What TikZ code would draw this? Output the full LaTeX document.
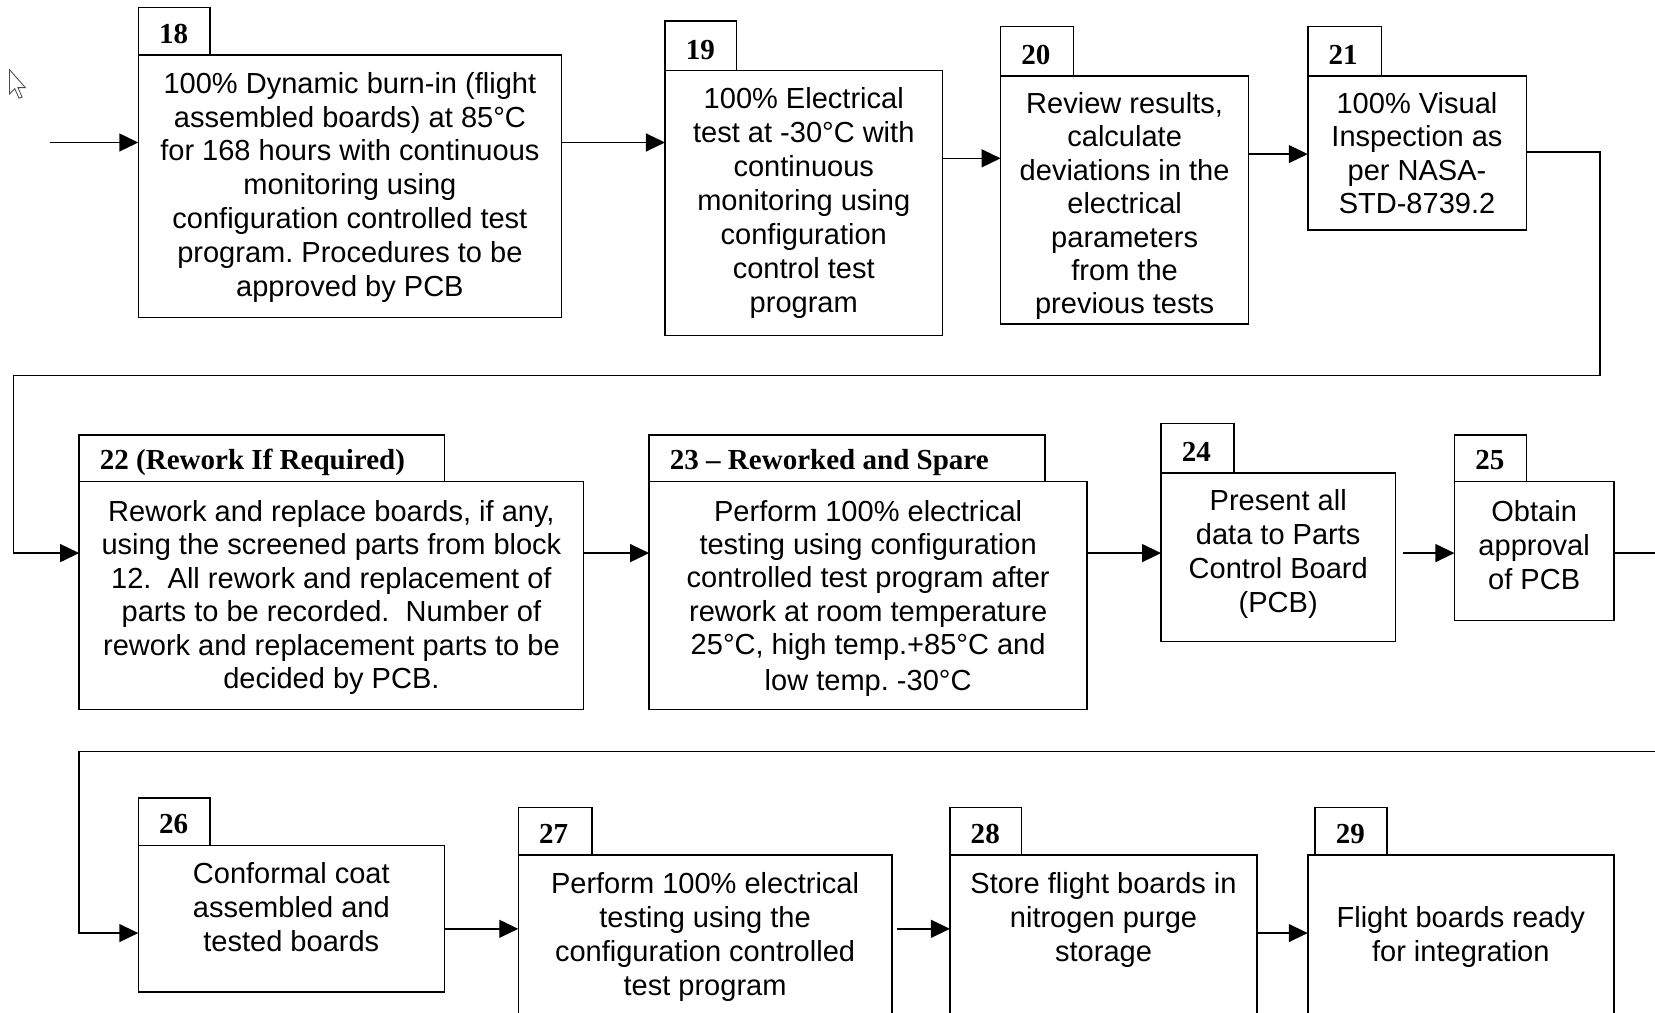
\documentclass[tikz,border=0pt]{standalone}
\usepackage{fontspec}
\setmainfont{Liberation Sans}
\newfontfamily\tabfont{Liberation Serif}
\usetikzlibrary{arrows.meta}
\frenchspacing

% a rectangle node given by its left, top, right and bottom edges
\newcommand\flowrect[5]{%
  \node[rectbox, minimum width={(#4)-(#2)}, minimum height={(#5)-(#3)}] (#1) at (#2,#3) {};}

\begin{document}
\begin{tikzpicture}[x=1pt,y=-1pt,line width=1.4pt,
  rectbox/.style={draw, rectangle, inner sep=0pt, outer sep=0pt, anchor=north west},
  tablabel/.style={anchor=base west, inner sep=0pt,
    font=\tabfont\bfseries\fontsize{27.5}{33}\selectfont},
  body/.style={anchor=north, inner sep=0pt, align=center,
    font=\fontsize{27.5}{32.2}\selectfont},
  arr/.style={-{Triangle[length=18pt,width=17pt]}}]

\useasboundingbox (0,0) rectangle (1568,959);
\clip (0,0) rectangle (1568,959);

% mouse pointer
\draw[line width=0.8pt, draw=black!70, fill=white]
  (9,66) -- (9,89) -- (14,84) -- (18,93) -- (21,92) -- (17,83) -- (24,83) -- cycle;

% ---------------- first row ----------------
\flowrect{t18}{131}{7}{199}{52}
\flowrect{b18}{131}{52}{532}{301}
\node[tablabel] (l18) at (150,41) {18};
\node[body] (x18) at ([yshift=-15.5pt]b18.north) {100\% Dynamic burn-in (flight\\assembled boards) at 85°C\\for 168 hours with continuous\\monitoring using\\configuration controlled test\\program. Procedures to be\\approved by PCB};

\flowrect{t19}{630}{20}{698}{67}
\flowrect{b19}{630}{67}{893}{318}
\node[tablabel] (l19) at (649,56) {19};
\node[body] (x19) at ([yshift=-15pt]b19.north) {100\% Electrical\\test at -30°C with\\continuous\\monitoring using\\configuration\\control test\\program};

\flowrect{t20}{948}{25}{1017}{72}
\flowrect{b20}{948}{72}{1183}{307}
\node[tablabel] (l20) at (967,61) {20};
\node[body, font=\fontsize{27.5}{31.6}\selectfont] (x20) at ([yshift=-15pt]b20.north) {Review results,\\calculate\\deviations in the\\electrical\\parameters\\from the\\previous tests};

\flowrect{t21}{1239}{25}{1309}{72}
\flowrect{b21}{1239}{72}{1446}{218}
\node[tablabel] (l21) at (1258,61) {21};
\node[body, font=\fontsize{27.5}{31.6}\selectfont] (x21) at ([yshift=-15pt]b21.north) {100\% Visual\\Inspection as\\per NASA-\\STD-8739.2};

% ---------------- second row ----------------
\flowrect{t22}{75}{412}{421}{456}
\flowrect{b22}{75}{456}{553}{672}
\node[tablabel] (l22) at (94,445) {22 (Rework If Required)};
\node[body, font=\fontsize{27.5}{31.8}\selectfont] (x22) at ([yshift=-17pt]b22.north) {Rework and replace boards, if any,\\using the screened parts from block\\12.\ \ All rework and replacement of\\parts to be recorded.\ \ Number of\\rework and replacement parts to be\\decided by PCB.};

\flowrect{t23}{615}{412}{990}{456}
\flowrect{b23}{615}{456}{1030}{672}
\node[tablabel] (l23) at (634,445) {23 – Reworked and Spare};
\node[body, font=\fontsize{27.5}{31.6}\selectfont] (x23) at ([yshift=-17pt]b23.north) {Perform 100\% electrical\\testing using configuration\\controlled test program after\\rework at room temperature\\25°C, high temp.+85°C and\\[2.5pt]low temp. -30°C};

\flowrect{t24}{1100}{401}{1169}{448}
\flowrect{b24}{1100}{448}{1322}{608}
\node[tablabel] (l24) at (1119,437) {24};
\node[body] (x24) at ([yshift=-15pt]b24.north) {Present all\\data to Parts\\Control Board\\(PCB)};

\flowrect{t25}{1378}{412}{1446}{456}
\flowrect{b25}{1378}{456}{1529}{588}
\node[tablabel] (l25) at (1397,445) {25};
\node[body] (x25) at ([yshift=-17pt]b25.north) {Obtain\\approval\\of PCB};

% ---------------- third row ----------------
\flowrect{t26}{131}{756}{199}{801}
\flowrect{b26}{131}{801}{421}{940}
\node[tablabel] (l26) at (150,790) {26};
\node[body] (x26) at ([yshift=-15pt]b26.north) {Conformal coat\\assembled and\\tested boards};

\flowrect{t27}{491}{765}{561}{810}
\flowrect{b27}{491}{810}{845}{1000}
\node[tablabel] (l27) at (510,799) {27};
\node[body] (x27) at ([yshift=-16pt]b27.north) {Perform 100\% electrical\\testing using the\\configuration controlled\\test program};

\flowrect{t28}{900}{765}{968}{810}
\flowrect{b28}{900}{810}{1191}{1000}
\node[tablabel] (l28) at (919,799) {28};
\node[body] (x28) at ([yshift=-16pt]b28.north) {Store flight boards in\\nitrogen purge\\storage};

\flowrect{t29}{1246}{765}{1314}{810}
\flowrect{b29}{1239}{810}{1529}{1000}
\node[tablabel] (l29) at (1265,799) {29};
\node[body] (x29) at ([yshift=-48pt]b29.north) {Flight boards ready\\for integration};

% ---------------- connectors ----------------
\coordinate (in18) at (47,135);
\draw[arr] (in18) -- (b18.west |- in18);
\draw[arr] (b18.east |- 0,135) -- (b19.west |- 0,135);
\draw[arr] (b19.east |- 0,150) -- (b20.west |- 0,150);
\draw[arr] (b20.east |- 0,146) -- (b21.west |- 0,146);
\draw[arr] (b21.east |- 0,144) -| (1516,356) -| (13,524) -- (b22.west |- 0,524);

\draw[arr] (b22.east |- 0,524) -- (b23.west |- 0,524);
\draw[arr] (b23.east |- 0,524) -- (b24.west |- 0,524);
\draw[arr, shorten <=7pt] (b24.east |- 0,524) -- (b25.west |- 0,524);
\draw[arr] (b25.east |- 0,524) -| (1620,712) -| (75,884) -- (b26.west |- 0,884);

\draw[arr] (b26.east |- 0,880) -- (b27.west |- 0,880);
\draw[arr, shorten <=5pt] (b27.east |- 0,880) -- (b28.west |- 0,880);
\draw[arr] (b28.east |- 0,884) -- (b29.west |- 0,884);
\end{tikzpicture}
\end{document}
